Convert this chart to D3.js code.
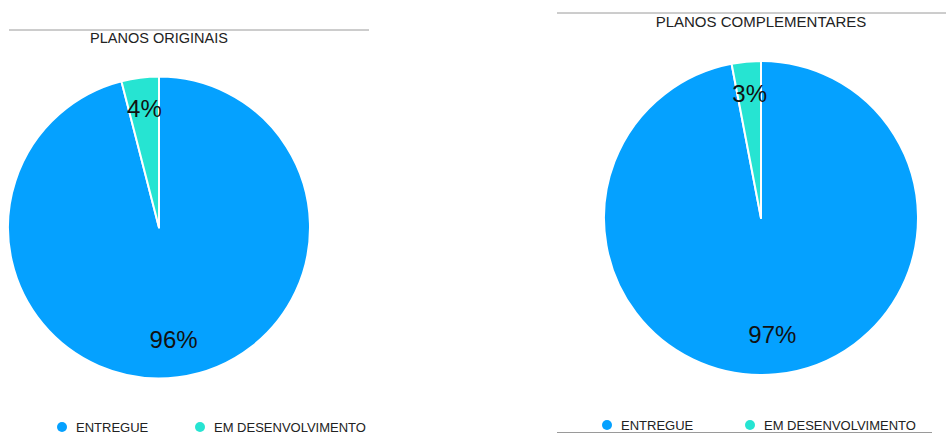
<!DOCTYPE html>
<html>
<head>
<meta charset="utf-8">
<script src="https://cdn.jsdelivr.net/npm/d3@7"></script>
<style>
  body { margin: 0; background: #fff; }
  text { font-family: "Liberation Sans", Arial, sans-serif; }
</style>
</head>
<body>
<div id="chart"></div>
<script>
var categories = ["ENTREGUE", "EM DESENVOLVIMENTO"];
var originais = [96, 4];
var complementares = [97, 3];
var titles = ["PLANOS ORIGINAIS", "PLANOS COMPLEMENTARES"];

var colors = d3.scaleOrdinal().domain(categories).range(["#05A1FF", "#26E4D2"]);

var svg = d3.select("#chart")
    .append("svg")
    .attr("width", 946)
    .attr("height", 435);

// layout of each panel (position and size only)
var panels = [
  { values: originais, title: titles[0], cx: 159, cy: 227.5, r: 151,
    lineY: 30, lineX: [9, 369], titleY: 43, legendY: 432, legendX: [62, 200], bottomLine: false },
  { values: complementares, title: titles[1], cx: 761, cy: 218, r: 157,
    lineY: 13, lineX: [557, 946], titleY: 27, legendY: 430, legendX: [607, 750], bottomLine: true }
];

var pie = d3.pie().sort(null).value(function(d) { return d.value; });

panels.forEach(function(p) {
  var data = categories.map(function(c, i) { return { cat: c, value: p.values[i] }; });

  // top rule
  svg.append("line")
    .attr("x1", p.lineX[0]).attr("x2", p.lineX[1])
    .attr("y1", p.lineY).attr("y2", p.lineY)
    .attr("stroke", "#9a9a9a").attr("stroke-width", 1);

  if (p.bottomLine) {
    svg.append("line")
      .attr("x1", p.lineX[0]).attr("x2", 932)
      .attr("y1", 432.5).attr("y2", 432.5)
      .attr("stroke", "#9a9a9a").attr("stroke-width", 1);
  }

  svg.append("text")
    .attr("x", p.cx).attr("y", p.titleY)
    .attr("text-anchor", "middle")
    .style("font-size", p.title.length > 18 ? "15px" : "14.5px")
    .style("fill", "#222")
    .text(p.title);

  var g = svg.append("g").attr("transform", "translate(" + p.cx + "," + p.cy + ")");
  var arc = d3.arc().innerRadius(0).outerRadius(p.r);
  var labelArc = d3.arc().innerRadius(p.r * 0.77).outerRadius(p.r * 0.77);

  g.selectAll("path")
    .data(pie(data))
    .enter().append("path")
    .attr("d", arc)
    .attr("fill", function(d) { return colors(d.data.cat); })
    .attr("stroke", "#fff")
    .attr("stroke-width", 2)
    .attr("stroke-linejoin", "round");

  g.selectAll(".lbl")
    .data(pie(data))
    .enter().append("text")
    .attr("class", "lbl")
    .attr("transform", function(d) { return "translate(" + labelArc.centroid(d) + ")"; })
    .attr("text-anchor", "middle")
    .attr("dy", "0.2em")
    .style("font-size", "24px")
    .style("fill", "#111")
    .text(function(d) { return d.data.value + "%"; });

  // legend
  categories.forEach(function(c, i) {
    svg.append("circle")
      .attr("cx", p.legendX[i]).attr("cy", p.legendY - 5)
      .attr("r", 5)
      .attr("fill", colors(c));
    svg.append("text")
      .attr("x", p.legendX[i] + 14).attr("y", p.legendY)
      .style("font-size", "13px")
      .style("fill", "#222")
      .text(c);
  });
});
</script>
</body>
</html>
